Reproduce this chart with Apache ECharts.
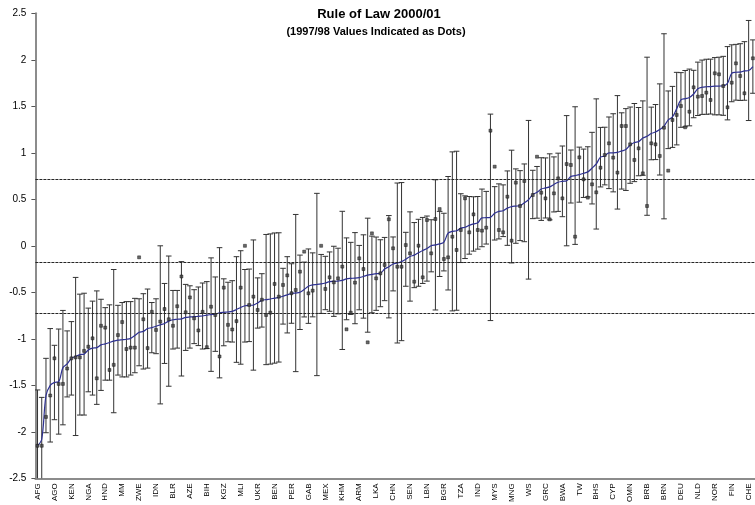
<!DOCTYPE html>
<html>
<head>
<meta charset="utf-8">
<script src="https://cdn.jsdelivr.net/npm/echarts@6/dist/echarts.min.js"></script>
<style>
  html, body { margin: 0; padding: 0; background: #fff; }
  #chart { width: 755px; height: 505px; }
</style>
</head>
<body>
<div id="chart"></div>
<script>
// Country codes shown on the x axis (every fourth country in rank order)
const tickLabels = ['AFG','AGO','KEN','NGA','HND','MM','ZWE','IDN','BLR','AZE','BIH','KGZ','MLI',
  'UKR','BEN','PER','GAB','MEX','KHM','ARM','LKA','CHN','SEN','LBN','BGR','TZA','IND','MYS',
  'MNG','WS','GRC','BWA','TW','BHS','CYP','OMN','BRB','BRN','DEU','NLD','NOR','FIN','CHE'];

// 2000/01 point estimates, sorted ascending
const estimate = [
  -2.15,-2.08,-1.61,-1.50,-1.47,-1.46,-1.31,-1.27,-1.21,-1.19,
  -1.17,-1.165,-1.12,-1.10,-1.095,-1.065,-1.055,-1.04,-1.025,-1.015,
  -1.01,-1.005,-0.995,-0.965,-0.93,-0.92,-0.89,-0.88,-0.865,-0.85,
  -0.835,-0.81,-0.795,-0.79,-0.785,-0.77,-0.765,-0.762,-0.758,-0.755,
  -0.745,-0.74,-0.735,-0.72,-0.715,-0.712,-0.705,-0.685,-0.663,-0.645,
  -0.64,-0.637,-0.615,-0.587,-0.578,-0.572,-0.562,-0.555,-0.542,-0.527,
  -0.513,-0.508,-0.50,-0.47,-0.434,-0.42,-0.416,-0.41,-0.40,-0.385,
  -0.382,-0.379,-0.372,-0.355,-0.35,-0.348,-0.342,-0.33,-0.316,-0.308,
  -0.30,-0.295,-0.25,-0.225,-0.195,-0.185,-0.17,-0.145,-0.115,-0.10,
  -0.075,-0.05,-0.03,0.0,0.01,0.02,0.04,0.135,0.155,0.162,
  0.19,0.20,0.22,0.235,0.247,0.30,0.302,0.306,0.349,0.37,
  0.377,0.405,0.422,0.427,0.432,0.462,0.495,0.552,0.575,0.61,
  0.622,0.634,0.66,0.683,0.693,0.70,0.745,0.755,0.765,0.78,
  0.795,0.835,0.88,0.953,0.965,1.0,1.0,1.005,1.02,1.035,
  1.082,1.11,1.12,1.158,1.178,1.208,1.223,1.251,1.285,1.355,
  1.386,1.475,1.568,1.582,1.595,1.632,1.688,1.705,1.71,1.712,
  1.716,1.718,1.72,1.748,1.855,1.866,1.868,1.88,1.885,1.927
];

// Half-width of the 90% confidence interval around each estimate
const margin = [
  0.60,0.45,0.40,0.61,0.40,0.565,0.615,0.355,0.395,0.85,
  0.65,0.655,0.45,0.505,0.61,0.49,0.39,0.405,0.77,0.375,
  0.40,0.405,0.395,0.40,0.36,0.405,0.425,0.27,0.295,0.85,
  0.43,0.70,0.315,0.31,0.615,0.355,0.335,0.29,0.315,0.355,
  0.36,0.61,0.40,0.70,0.36,0.32,0.33,0.568,0.61,0.39,
  0.39,0.70,0.27,0.287,0.70,0.70,0.70,0.695,0.30,0.41,
  0.32,0.845,0.40,0.295,0.40,0.344,0.98,0.317,0.287,0.319,
  0.377,0.353,0.743,0.44,0.387,0.49,0.346,0.448,0.613,0.412,
  0.394,0.36,0.34,0.55,0.29,0.86,0.85,0.29,0.48,0.35,
  0.36,0.355,0.35,0.28,0.70,0.35,0.31,0.61,0.855,0.855,
  0.37,0.337,0.31,0.292,0.283,0.31,0.283,1.11,0.287,0.296,
  0.278,0.40,0.606,0.40,0.376,0.418,0.853,0.26,0.278,0.337,
  0.323,0.355,0.296,0.313,0.38,0.70,0.285,0.74,0.296,0.26,
  0.27,0.385,0.70,0.32,0.31,0.385,0.42,0.61,0.41,0.44,
  0.41,0.42,0.367,0.40,0.85,0.283,0.296,0.49,0.995,0.31,
  0.328,0.39,0.294,0.303,0.305,0.255,0.287,0.292,0.296,0.295,
  0.308,0.31,0.317,0.394,0.306,0.30,0.305,0.315,0.538,0.287
];

// 1997/98 values (null where the country was not rated)
const values9798 = [
  -2.15,-2.15,-1.84,-1.61,-1.21,-1.485,-1.485,-1.32,-1.21,-1.20,
  -1.20,-1.13,-1.085,-0.995,-1.425,-0.86,-0.88,-1.335,-1.28,-0.96,
  -0.82,-1.11,-1.095,-1.095,-0.124,-0.79,-1.10,-0.71,-0.905,-0.815,
  -0.68,-0.79,-0.86,-0.65,-0.33,-0.715,-0.555,-0.78,-0.91,-0.71,
  -1.09,-0.655,-0.744,-1.19,-0.45,-0.85,-0.90,-0.81,-0.45,0.0,
  -0.637,-0.547,-0.69,-0.58,-0.744,-0.719,-0.41,-0.547,-0.421,-0.318,
  -0.51,-0.475,-0.278,-0.063,-0.511,-0.482,null,0.0,-0.464,-0.339,
  -0.393,-0.35,-0.224,-0.898,-0.719,-0.396,-0.135,-0.25,-1.038,0.134,
  -0.35,-0.296,-0.206,0.285,-0.027,-0.225,-0.225,0.008,-0.081,-0.386,
  0.001,-0.339,0.277,-0.081,0.288,0.395,-0.142,-0.124,0.098,-0.045,
  0.17,0.51,0.145,0.338,0.17,0.163,0.195,1.238,0.851,0.17,
  0.145,0.528,0.055,0.679,0.428,0.697,null,0.546,0.958,0.571,
  0.51,0.284,0.564,0.725,0.51,0.879,0.869,0.098,0.951,0.715,
  0.518,0.661,0.575,0.84,0.976,1.102,0.948,0.787,1.288,1.288,
  1.091,0.923,1.048,0.779,0.428,1.102,1.091,0.966,1.27,0.808,
  1.353,1.407,1.503,1.274,1.442,1.704,1.604,1.611,1.647,1.568,
  1.855,1.844,1.718,1.489,1.754,1.962,1.826,1.64,null,2.016
];

// Reference cut-off levels drawn as dashed lines
const cutoffs = [0.72, -0.18, -0.73];

const yTicks = { min: -2.5, max: 2.5, step: 0.5 };

const categories = estimate.map((_, i) =>
  (i % 4 === 0 && tickLabels[i / 4]) ? tickLabels[i / 4] : '');

const intervals = estimate.map((e, i) => [i, e - margin[i], e + margin[i]]);
const dots = values9798.map((v, i) => [i, v]).filter(d => d[1] !== null);

const FONT = '"Liberation Sans", Arial, Helvetica, sans-serif';

function renderErrorBar(params, api) {
  const x = api.value(0);
  const lo = api.coord([x, api.value(1)]);
  const hi = api.coord([x, api.value(2)]);
  const hw = 2.8;
  const style = { stroke: '#333', lineWidth: 1, fill: null };
  return {
    type: 'group',
    children: [
      { type: 'line', shape: { x1: lo[0], y1: lo[1], x2: hi[0], y2: hi[1] }, style: style },
      { type: 'line', shape: { x1: hi[0] - hw, y1: hi[1], x2: hi[0] + hw, y2: hi[1] }, style: style },
      { type: 'line', shape: { x1: lo[0] - hw, y1: lo[1], x2: lo[0] + hw, y2: lo[1] }, style: style }
    ]
  };
}

const chart = echarts.init(document.getElementById('chart'), null, { renderer: 'canvas' });

chart.setOption({
  animation: false,
  backgroundColor: '#fff',
  title: [
    {
      text: 'Rule of Law 2000/01',
      left: 379, top: 8, padding: 0, textAlign: 'center',
      textStyle: { fontFamily: FONT, fontSize: 13, fontWeight: 'bold', color: '#000' }
    },
    {
      text: '(1997/98 Values Indicated as Dots)',
      left: 376, top: 26.5, padding: 0, textAlign: 'center',
      textStyle: { fontFamily: FONT, fontSize: 11, fontWeight: 'bold', color: '#000' }
    }
  ],
  grid: { left: 35.4, top: 13.3, width: 720.8, height: 465, containLabel: false },
  xAxis: {
    type: 'category',
    data: categories,
    boundaryGap: true,
    axisLine: { onZero: false, lineStyle: { color: '#8c8c8c', width: 2 } },
    axisTick: { show: false },
    axisLabel: {
      interval: 0, rotate: 90, margin: 5,
      fontFamily: FONT, fontSize: 8, color: '#000'
    },
    splitLine: { show: false }
  },
  yAxis: {
    type: 'value',
    min: yTicks.min, max: yTicks.max, interval: yTicks.step,
    axisLine: { show: true, lineStyle: { color: '#8c8c8c', width: 2 } },
    axisTick: { show: true, length: 4, lineStyle: { color: '#555' } },
    axisLabel: { margin: 9, fontFamily: FONT, fontSize: 10, color: '#000' },
    splitLine: { show: false }
  },
  series: [
    {
      type: 'custom',
      name: 'interval',
      renderItem: renderErrorBar,
      data: intervals,
      clip: true,
      encode: { x: 0, y: [1, 2] },
      z: 2
    },
    {
      type: 'line',
      name: 'estimate',
      data: estimate,
      smooth: 0.35,
      symbol: 'none',
      lineStyle: { color: '#2E3192', width: 1.2 },
      z: 3,
      markLine: {
        silent: true,
        symbol: 'none',
        label: { show: false },
        lineStyle: { color: '#262626', width: 1, type: [3, 1] },
        data: cutoffs.map(v => ({ yAxis: v }))
      }
    },
    {
      type: 'scatter',
      name: '1997/98',
      data: dots,
      symbol: 'rect',
      symbolSize: 3,
      itemStyle: { color: '#444', borderColor: '#000', borderWidth: 0.5 },
      z: 4
    }
  ]
});
</script>
</body>
</html>
